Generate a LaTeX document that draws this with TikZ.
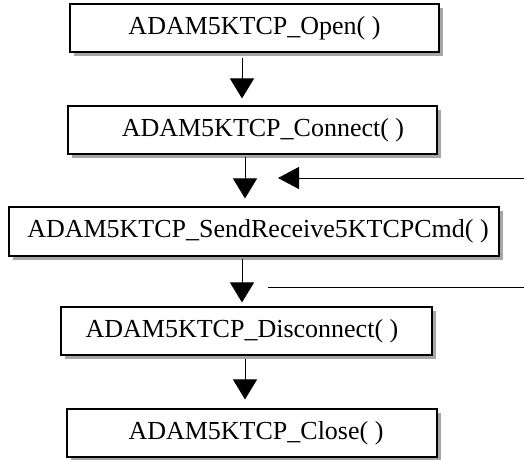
\documentclass[tikz,border=0pt]{standalone}
\usepackage{fontspec}
\setmainfont{Liberation Serif}
\usetikzlibrary{arrows.meta,shadows}
\begin{document}
\begin{tikzpicture}[x=1pt,y=-1pt,
  fbox/.style={draw,line width=1.1pt,fill=white,minimum height=48pt,inner sep=0pt,
    font=\fontsize{26}{31}\selectfont,
    drop shadow={shadow xshift=4pt,shadow yshift=-4pt,fill=black!35,opacity=1}},
  arr/.style={line width=0.9pt,-{Triangle[width=24pt,length=20pt]}},
  harr/.style={line width=0.9pt,-{Triangle[width=22pt,length=21pt]}},
  plain/.style={line width=0.9pt}]
\useasboundingbox (0,0) rectangle (524,459);
\node[fbox,minimum width=369pt] (o) at (254.5,28) {ADAM5KTCP\_Open( )};
\node[fbox,minimum width=369pt] (c) at (252.5,130) {\hspace*{21pt}ADAM5KTCP\_Connect( )};
\node[fbox,minimum width=490pt,minimum height=49pt] (s) at (254,231.5) {\hspace*{8pt}ADAM5KTCP\_SendReceive5KTCPCmd( )};
\node[fbox,minimum width=371pt] (d) at (246.5,331) {ADAM5KTCP\_Disconnect( )\hspace*{9pt}};
\node[fbox,minimum width=370pt] (cl) at (252,433) {\hspace*{8pt}ADAM5KTCP\_Close( )};
\coordinate (xa) at (242,0);
\coordinate (xb) at (245,0);
\coordinate (hs) at (524,178);
\coordinate (he) at (278,178);
\coordinate (ls) at (268,287);
\coordinate (le) at (524,287);
\draw[arr,shorten <=5pt,shorten >=7pt] (o.south -| xa) -- (c.north -| xa);
\draw[arr,shorten <=2pt,shorten >=8pt] (c.south -| xb) -- (s.north -| xb);
\draw[arr,shorten <=2pt,shorten >=4pt] (s.south -| xa) -- (d.north -| xa);
\draw[arr,shorten <=3pt,shorten >=9pt] (d.south -| xb) -- (cl.north -| xb);
\draw[harr] (hs) -- (he);
\draw[plain] (ls) -- (le);
\end{tikzpicture}
\end{document}
